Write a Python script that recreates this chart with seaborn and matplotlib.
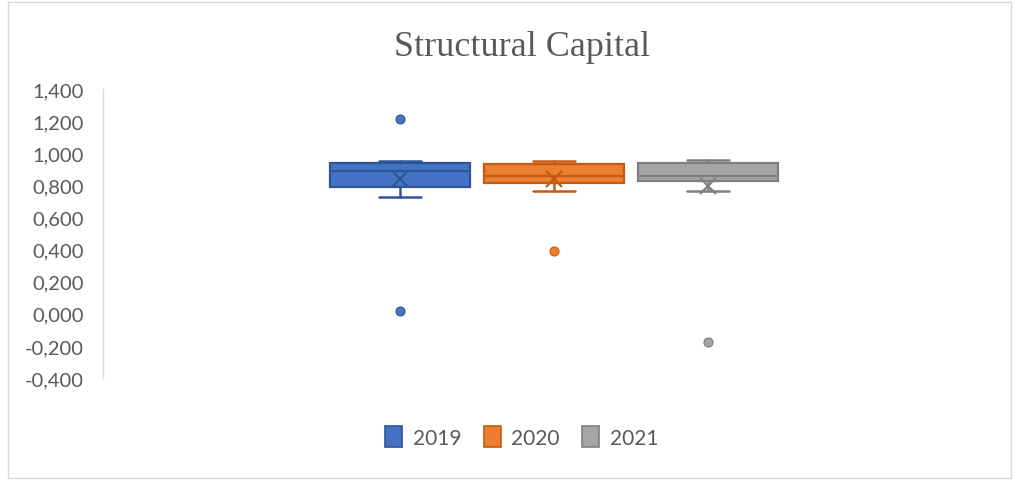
import matplotlib
matplotlib.use("Agg")
import matplotlib.pyplot as plt
import matplotlib.patches as mpatches
from matplotlib.ticker import FuncFormatter, MultipleLocator
import seaborn as sns

# ---- data ----
years = ["2019", "2020", "2021"]
whisker_low = [0.727, 0.767, 0.767]
q1 = [0.790, 0.817, 0.827]
median = [0.891, 0.858, 0.860]
q3 = [0.939, 0.931, 0.937]
whisker_high = [0.952, 0.954, 0.958]
means = [0.840, 0.840, 0.798]
outliers = [[1.213, 0.020], [0.389], [-0.177]]

fill_colors = ["#4472C4", "#ED7D31", "#A5A5A5"]
edge_colors = ["#2F5597", "#C55A11", "#7F7F7F"]

sns.set_style("white")
plt.rcParams["font.family"] = ["Lato", "DejaVu Sans"]

W, H = 1019, 481
fig = plt.figure(figsize=(W / 100, H / 100), dpi=100)
ax = fig.add_axes([103 / W, 1 - 379 / H, (1005 - 103) / W, (379 - 90) / H])

for i, yr in enumerate(years):
    stat = dict(label=yr, whislo=whisker_low[i], q1=q1[i], med=median[i],
                q3=q3[i], whishi=whisker_high[i], mean=means[i],
                fliers=outliers[i])
    ec = edge_colors[i]
    ax.bxp([stat], positions=[i], widths=0.91, patch_artist=True,
           showmeans=True, showfliers=True,
           boxprops=dict(facecolor=fill_colors[i], edgecolor=ec, linewidth=1.6),
           medianprops=dict(color=ec, linewidth=1.6),
           whiskerprops=dict(color=ec, linewidth=1.8),
           capprops=dict(color=ec, linewidth=1.8),
           capwidths=0.27,
           meanprops=dict(marker="x", markeredgecolor=ec, markersize=11,
                          markeredgewidth=1.6),
           flierprops=dict(marker="o", markerfacecolor=fill_colors[i],
                           markeredgecolor=ec, markersize=6.5,
                           markeredgewidth=0.8))

ax.set_xlim(-297 / 154, 2 + 297 / 154)
ax.set_ylim(-0.4, 1.4)
ax.yaxis.set_major_locator(MultipleLocator(0.2))
ax.yaxis.set_major_formatter(FuncFormatter(lambda v, p: f"{v:.3f}".replace(".", ",")))
ax.set_xticks([])
ax.tick_params(axis="y", length=0, pad=14, labelsize=14.5, labelcolor="#595959")
sns.despine(ax=ax, top=True, right=True, bottom=True, left=False)
ax.spines["left"].set_color("#D9D9D9")
ax.spines["left"].set_linewidth(1.0)
ax.grid(False)

fig.text(0.512, 1 - 47 / H, "Structural Capital", ha="center", va="center",
         fontsize=26, color="#595959", family=["Liberation Serif", "DejaVu Serif"])

handles = [mpatches.Patch(facecolor=fill_colors[i], edgecolor=edge_colors[i],
                          linewidth=1.2, label=years[i]) for i in range(3)]
fig.legend(handles=handles, loc="center", bbox_to_anchor=(0.512, 1 - 438 / H),
           ncol=3, frameon=False, fontsize=15, labelcolor="#595959",
           handlelength=0.8, handleheight=1.15, handletextpad=0.5,
           columnspacing=1.1)

fig.add_artist(mpatches.Rectangle((8 / W, 2 / H), (1011 - 8) / W, (478 - 2) / H,
                                  transform=fig.transFigure, fill=False,
                                  edgecolor="#D9D9D9", linewidth=1.0))

fig.savefig("out.png", dpi=100, facecolor="white")
